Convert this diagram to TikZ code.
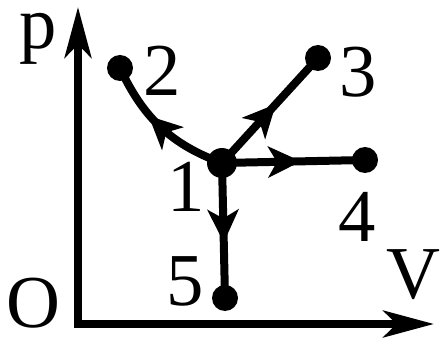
\documentclass[tikz,border=0pt]{standalone}
\usepackage{fontspec}
\setmainfont{Liberation Serif}
\usetikzlibrary{arrows.meta,decorations.markings}

\begin{document}
\begin{tikzpicture}[x=0.75pt, y=-0.75pt,
  state/.style={circle, fill=black, inner sep=0pt, minimum size=19.5pt},
  lbl/.style={font=\fontsize{56}{56}\selectfont, inner sep=0pt},
  axis/.style={line width=6pt, line join=miter,
    {Stealth[length=38pt, width=20pt, inset=10pt]}-{Stealth[length=38pt, width=20pt, inset=10pt]}},
  proc/.style={line width=6pt, postaction={decorate},
    decoration={markings, mark=at position #1 with {\fill (12pt,0pt) -- (-13pt,12pt) -- (-6pt,0pt) -- (-13pt,-12pt) -- cycle;}}}
]
\useasboundingbox (0,0) rectangle (442,338);

% axes
\coordinate (origin) at (78,324);
\coordinate (ptop) at (78,7);
\coordinate (vend) at (434,324);
\draw[axis] (ptop) -- (origin) -- (vend);

% states
\node[state, minimum size=22.5pt] (s1) at (222,163) {};
\node[state] (s2) at (120,68) {};
\node[state] (s3) at (318,58) {};
\node[state] (s4) at (365,160) {};
\node[state] (s5) at (225,298) {};

% processes
\draw[proc=0.5] (s1.center) to[out=160, in=-65] (s2.center);
\draw[proc=0.45] (s1.center) -- (s3.center);
\draw[proc=0.44] (s1.center) -- (s4.center);
\draw[proc=0.47] (s1.center) -- (s5.center);

% labels
\node[lbl] (lp) at (38,39) {p};
\node[lbl] (lO) at (33,303) {O};
\node[lbl] (lV) at (413,275) {V};
\node[lbl] (l1) at (186,187) {1};
\node[lbl] (l2) at (162,71) {2};
\node[lbl] (l3) at (358,72) {3};
\node[lbl] (l4) at (357,217) {4};
\node[lbl] (l5) at (185,281) {5};
\end{tikzpicture}
\end{document}
